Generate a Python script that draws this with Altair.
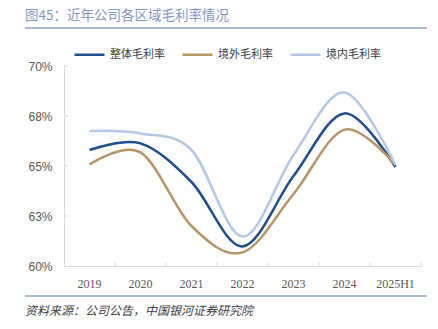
import altair as alt
import pandas as pd

years = ["2019", "2020", "2021", "2022", "2023", "2024", "2025H1"]
series_names = ["整体毛利率", "境外毛利率", "境内毛利率"]
total_margin = [65.8, 66.13, 64.2, 60.98, 64.5, 67.63, 64.95]
overseas_margin = [65.08, 65.68, 62.0, 60.68, 63.6, 66.82, 65.05]
domestic_margin = [66.75, 66.63, 65.8, 61.47, 65.55, 68.68, 65.05]
y_ticks = [60, 62.5, 65, 67.5, 70]
title_text = "图45：近年公司各区域毛利率情况"
source_text = "资料来源：公司公告，中国银河证券研究院"
colors = ["#1F4E8F", "#B89469", "#B4C7E7"]

rows = []
for name, vals in zip(series_names, [total_margin, overseas_margin, domestic_margin]):
    for y, v in zip(years, vals):
        rows.append({"year": y, "series": name, "value": v})
df = pd.DataFrame(rows)

W, H = 357, 200

xscale = alt.Scale(paddingInner=0, paddingOuter=0)
yscale = alt.Scale(domain=[60, 70], nice=False, zero=False)

lines = alt.Chart(df).mark_line(interpolate="cardinal", strokeWidth=2.5).encode(
    x=alt.X("year:N", sort=years, scale=xscale,
            axis=alt.Axis(title=None, labelAngle=0, ticks=False, domainColor="#D9D9D9",
                          labelFont="Liberation Serif", labelFontSize=12, labelColor="#595959",
                          labelPadding=12)),
    y=alt.Y("value:Q", scale=yscale,
            axis=alt.Axis(title=None, values=y_ticks, grid=False, ticks=False,
                          domainColor="#D9D9D9", labelFont="Liberation Sans", labelFontSize=12,
                          labelColor="#595959", labelPadding=12,
                          labelExpr="format(datum.value, '.0f') + '%'")),
    color=alt.Color("series:N", sort=series_names,
                    scale=alt.Scale(domain=series_names, range=colors),
                    legend=alt.Legend(title=None, orient="none", legendX=9, legendY=-28,
                                      direction="horizontal", symbolType="stroke",
                                      symbolSize=900, symbolStrokeWidth=2.5,
                                      labelFont="Noto Sans CJK SC", labelFontSize=11,
                                      labelColor="#404040", labelOffset=4, columnPadding=12)),
    detail="series:N",
)

xticks = alt.Chart(pd.DataFrame({"year": years})).mark_rule(color="#D9D9D9", strokeWidth=1).encode(
    x=alt.X("year:N", sort=years, bandPosition=1),
    y=alt.value(H - 4), y2=alt.value(H),
)

yticks_df = pd.DataFrame({"value": y_ticks[1:]})
yticks = alt.Chart(yticks_df).mark_rule(color="#D9D9D9", strokeWidth=1).encode(
    y=alt.Y("value:Q"),
    x=alt.value(0), x2=alt.value(4),
)

title = alt.Chart(pd.DataFrame({"t": [title_text]})).mark_text(
    align="left", baseline="middle", font="Noto Sans CJK SC", fontSize=13.5, color="#8598C2"
).encode(text="t:N", x=alt.value(-39), y=alt.value(-50))

title_rule = alt.Chart(pd.DataFrame({"a": [0]})).mark_rule(color="#8EA4CF", strokeWidth=1.5).encode(
    x=alt.value(-39), x2=alt.value(363), y=alt.value(-38)
)

bottom_rule = alt.Chart(pd.DataFrame({"a": [0]})).mark_rule(color="#8EA4CF", strokeWidth=1.5).encode(
    x=alt.value(-39), x2=alt.value(363), y=alt.value(230)
)

source = alt.Chart(pd.DataFrame({"t": [source_text]})).mark_text(
    align="left", baseline="middle", font="Noto Sans CJK SC", fontSize=12,
    fontStyle="italic", color="#404040"
).encode(text="t:N", x=alt.value(-39), y=alt.value(245))

chart = alt.layer(lines, xticks, yticks, title, title_rule, bottom_rule, source).properties(
    width=W, height=H,
    autosize=alt.AutoSizeParams(type="none"),
    padding={"left": 64, "top": 66, "right": 17, "bottom": 63},
    background="white",
).configure_view(stroke=None)

chart.save("out.html", embed_options={"renderer": "svg", "actions": False})
